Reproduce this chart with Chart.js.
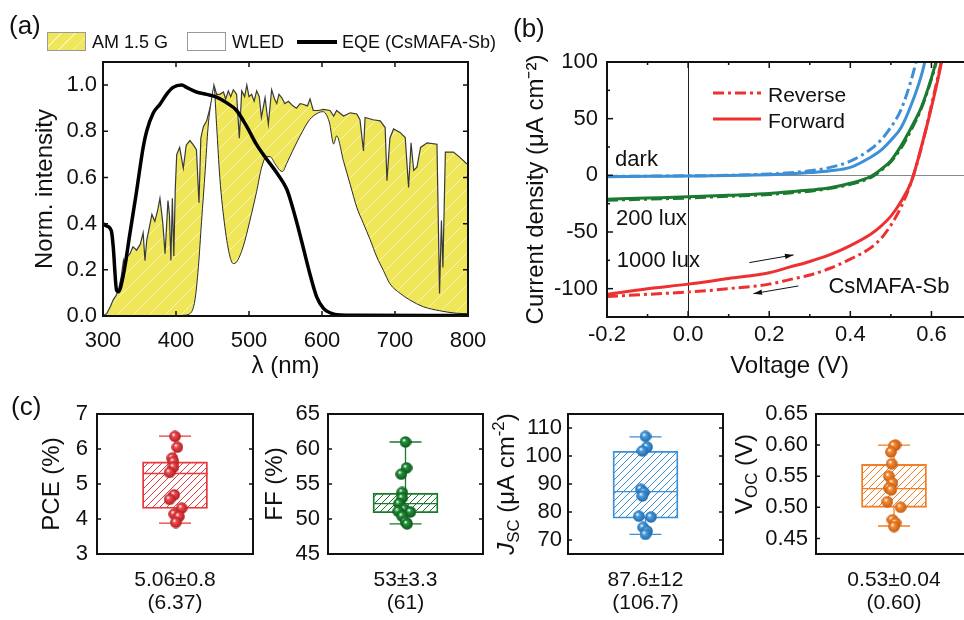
<!DOCTYPE html>
<html>
<head>
<meta charset="utf-8">
<script src="https://cdn.jsdelivr.net/npm/chart.js@4.4.1/dist/chart.umd.min.js"></script>
<style>
  html, body { margin: 0; padding: 0; background: #fff; overflow: hidden; }
  #wrap { position: relative; width: 964px; height: 620px; overflow: hidden;
          font-family: 'Liberation Sans', Arial, sans-serif; color: #111; }
  canvas { position: absolute; }
  .t { position: absolute; white-space: nowrap; line-height: 1; transform: translateY(-50%); }
  .sw { position: absolute; box-sizing: border-box; }
</style>
</head>
<body>
<div id="wrap">
  <canvas id="ca" width="500" height="381" style="left:0;top:0"></canvas>
  <canvas id="cb" width="492" height="390" style="left:480px;top:0"></canvas>
  <canvas id="c1" width="260" height="240" style="left:0;top:380px"></canvas>
  <canvas id="c2" width="230" height="240" style="left:260px;top:380px"></canvas>
  <canvas id="c3" width="240" height="240" style="left:490px;top:380px"></canvas>
  <canvas id="c4" width="255" height="240" style="left:725px;top:380px"></canvas>

  <div class="t" style="left:9px;top:25px;font-size:26px">(a)</div>
  <div class="t" style="left:513px;top:28px;font-size:26px">(b)</div>
  <div class="t" style="left:11px;top:406px;font-size:26px">(c)</div>

  <!-- legend (a) -->
  <div class="sw" style="left:47px;top:32px;width:39px;height:19px;border:1px solid #999;
       background:repeating-linear-gradient(135deg, rgba(255,255,255,0) 0 9px, rgba(255,255,255,.55) 9px 10px), rgb(240,230,90)"></div>
  <div class="t" style="left:92px;top:42px;font-size:18px">AM 1.5 G</div>
  <div class="sw" style="left:187px;top:32px;width:39px;height:19px;border:1px solid #999;background:#fff"></div>
  <div class="t" style="left:232px;top:42px;font-size:18px">WLED</div>
  <div class="sw" style="left:297px;top:40px;width:40px;height:4px;background:#000"></div>
  <div class="t" style="left:342px;top:42px;font-size:18px">EQE (CsMAFA-Sb)</div>

  <!-- legend (b) -->
  <svg style="position:absolute;left:710px;top:84px" width="54" height="44">
    <line x1="3" y1="9" x2="51" y2="9" stroke="#ee3030" stroke-width="3" stroke-dasharray="11 4 3 4"/>
    <line x1="3" y1="35" x2="51" y2="35" stroke="#ee3030" stroke-width="3"/>
  </svg>
  <div class="t" style="left:768px;top:94px;font-size:21px">Reverse</div>
  <div class="t" style="left:768px;top:120px;font-size:21px">Forward</div>
</div>

<script>
// ---------- (a) spectra: [wavelength nm, normalised intensity] ----------
const amSpectrum = [
  [300,0],[305,0.01],[310,0.04],[314,0.07],[318,0.09],[321,0.11],[325,0.17],[328,0.24],[330,0.21],
  [334,0.26],[337,0.27],[341,0.30],[346,0.285],[351,0.31],[355,0.36],[357.5,0.24],[360,0.33],[362,0.36],
  [367,0.44],[371,0.41],[375,0.46],[378,0.51],[382,0.40],[385,0.27],[389,0.50],[391,0.44],[393,0.24],
  [395,0.51],[397,0.26],[399,0.55],[401,0.70],[405,0.73],[410,0.64],[414,0.74],[419,0.76],[424,0.74],
  [428,0.72],[431.5,0.49],[434,0.77],[437.5,0.82],[442,0.845],[446.5,0.90],[450,0.945],[452,1.0],
  [455.7,0.96],[460,0.96],[465,0.97],[468,0.94],[471.7,0.975],[475,0.95],[478.5,0.98],[483,0.96],
  [486.8,0.77],[490,0.975],[494,0.95],[497,1.0],[500,0.95],[503.6,0.96],[507,0.93],[510.5,0.975],
  [514,0.95],[517,0.86],[522,0.945],[526.5,0.83],[531,0.98],[535,0.94],[538,0.92],[541,0.96],
  [545,0.945],[549,0.92],[554,0.93],[560,0.91],[565,0.90],[570,0.92],[574,0.917],[580,0.91],
  [583.6,0.94],[588,0.89],[595,0.89],[602,0.895],[611,0.89],[616,0.866],[620,0.89],[629.5,0.866],
  [638.6,0.88],[647.7,0.875],[652,0.85],[656.8,0.715],[659,0.86],[670,0.85],[679.7,0.845],
  [686.5,0.816],[689,0.586],[693,0.77],[698,0.81],[707,0.795],[714,0.773],[718.6,0.557],[722,0.75],
  [725.6,0.63],[730,0.644],[735,0.73],[744,0.75],[757.5,0.744],[761,0.098],[763.6,0.414],[765.6,0.21],
  [769,0.71],[780,0.71],[789,0.687],[798,0.66],[800,0.66]
];
const wledSpectrum = [
  [300,0],[390,0],[410,0.003],[419,0.01],[426,0.07],[430.6,0.21],[435,0.41],[440,0.63],[444,0.82],
  [449,0.945],[452,0.99],[455.7,0.82],[460,0.60],[467,0.385],[474,0.256],[478.5,0.227],[483,0.234],
  [492,0.30],[501,0.41],[510.5,0.54],[517,0.64],[524,0.69],[528.8,0.69],[535.6,0.66],[542.5,0.63],
  [546,0.626],[551.6,0.66],[556,0.69],[570,0.78],[583,0.85],[595,0.88],[601,0.885],[610,0.84],
  [616,0.745],[620,0.78],[629.5,0.67],[638.6,0.57],[647.7,0.47],[656.8,0.40],[666,0.33],[675,0.256],
  [684,0.198],[693,0.14],[707,0.098],[720,0.07],[739,0.04],[761,0.023],[784,0.012],[800,0.01]
];
const eqeCurve = [
  [300,0.40],[305,0.39],[309.6,0.38],[312,0.36],[314,0.30],[318.7,0.11],[321,0.105],[328,0.18],
  [337,0.36],[346,0.54],[355,0.73],[359.8,0.80],[369,0.88],[378,0.917],[387,0.96],[396,0.99],
  [408,1.0],[414.6,0.99],[428,0.97],[442,0.96],[455.7,0.948],[469,0.924],[483,0.89],[497,0.82],
  [510,0.744],[524,0.68],[538,0.62],[551.6,0.55],[556,0.51],[565,0.41],[574,0.30],[583.6,0.18],
  [592.7,0.083],[602,0.033],[611,0.014],[624.6,0.004],[647,0.003],[800,0.002]
];
const aTicksX = [300, 400, 500, 600, 700, 800];
const aTicksY = [0, 0.2, 0.4, 0.6, 0.8, 1.0];

// ---------- (b) J-V curves (V, µA cm-2) ----------
const jvVoltage  = [-0.2, -0.1, 0, 0.1, 0.2, 0.25, 0.3, 0.35, 0.4, 0.45, 0.475, 0.5, 0.525, 0.55, 0.575, 0.6, 0.625, 0.65];
const darkFwd    = [-1.2, -0.9, -0.6, -0.2, 0.6, 1.3, 2.4, 4, 7, 16, 22, 31, 42, 62, 88, 125, 165, 210];
const darkRev    = [-1.0, -0.7, -0.4, 0, 1.2, 2.3, 4, 7, 12.5, 23, 31, 42.5, 58, 84, 118, 150, 190, 230];
const lux200Fwd  = [-21, -20, -19, -17.5, -16, -14.5, -13, -11, -7, -1, 5, 13, 26, 42, 60, 86, 118, 150];
const lux200Rev  = [-22, -21, -20, -18.5, -17, -15.5, -14, -11.5, -8, -2, 4, 12, 24, 40, 59, 85, 117, 150];
const lux1000Fwd = [-105, -100, -96, -91, -86, -81, -76, -70, -62, -52, -45, -36, -23, -6, 25, 60, 100, 150];
const lux1000Rev = [-107, -105, -103, -100, -96, -92, -88, -82, -74, -64, -56, -44, -28, -6, 24, 62, 102, 150];
const bTicksX = [-0.2, 0, 0.2, 0.4, 0.6];
const bTicksY = [-100, -50, 0, 50, 100];
const bNotes = [
  { text: 'dark', v: -0.18, j: 14 },
  { text: '200 lux', v: -0.178, j: -38.5 },
  { text: '1000 lux', v: -0.176, j: -75.5 },
  { text: 'CsMAFA-Sb', v: 0.346, j: -98.4 }
];
const bArrows = [
  { from: [0.151, -77], to: [0.26, -70.2] },
  { from: [0.272, -97.6], to: [0.161, -104.4] }
];

// ---------- (c) device statistics ----------
const pceValues = [6.36, 6.05, 5.74, 5.64, 5.48, 5.33, 4.69, 4.56, 4.31, 4.14, 4.07, 3.9];
const pceX      = [1.0, 1.03, 0.965, 0.98, 0.98, 0.93, 0.99, 0.93, 1.085, 0.99, 1.05, 1.01];
const pceBox    = [3.88, 4.3, 5.3, 5.63, 6.37];          // min, q1, median, q3, max
const pceTicks  = [3, 4, 5, 6, 7];
const pceCaption = ['5.06±0.8', '(6.37)'];

const ffValues = [61.0, 57.3, 56.4, 53.8, 53.0, 52.2, 51.4, 51.1, 51.0, 50.4, 49.6, 49.3];
const ffX      = [1.0, 1.013, 0.945, 0.957, 0.957, 0.915, 0.987, 0.906, 1.064, 0.957, 1.0, 1.02];
const ffBox    = [49.3, 50.9, 52.2, 53.7, 61.0];
const ffTicks  = [45, 50, 55, 60, 65];
const ffCaption = ['53±3.3', '(61)'];

const jscValues = [107, 103.2, 101.8, 88.1, 87, 85.7, 78.5, 78.2, 74.5, 73.2, 72];
const jscX      = [1.0, 1.02, 0.96, 0.94, 0.98, 0.96, 0.915, 1.07, 0.97, 1.02, 1.0];
const jscBox    = [72, 77.8, 87.3, 101.7, 106.8];
const jscTicks  = [70, 80, 90, 100, 110];
const jscCaption = ['87.6±12', '(106.7)'];

const vocValues = [0.600, 0.599, 0.589, 0.570, 0.550, 0.539, 0.531, 0.528, 0.509, 0.500, 0.480, 0.475, 0.469];
const vocX      = [1.02, 1.0, 0.96, 0.97, 0.935, 0.98, 0.935, 0.965, 0.915, 1.085, 0.98, 1.02, 1.0];
const vocBox    = [0.47, 0.50, 0.53, 0.569, 0.60];
const vocTicks  = [0.45, 0.50, 0.55, 0.60, 0.65];
const vocCaption = ['0.53±0.04', '(0.60)'];

// ---------- helpers ----------
const FONT = "'Liberation Sans', Arial, sans-serif";
Chart.defaults.font.family = FONT;
Chart.defaults.color = '#111';

const toXY = pairs => pairs.map(p => ({ x: p[0], y: p[1] }));
const zip = (xs, ys) => xs.map((x, i) => ({ x: x, y: ys[i] }));
const NOGRID = { display: false, drawTicks: false };

// pin an axis to a fixed size so the plot areas line up with the figure
function fixSize(size) {
  return s => {
    if (s.isHorizontal()) s.height = size; else s.width = size;
    s.paddingLeft = s.paddingRight = s.paddingTop = s.paddingBottom = 0;
  };
}
const useTicks = arr => s => { s.ticks = arr.map(v => ({ value: v })); };

function hatch(ctx, color, size, width, bg) {
  const c = document.createElement('canvas');
  c.width = c.height = size;
  const g = c.getContext('2d');
  if (bg) { g.fillStyle = bg; g.fillRect(0, 0, size, size); }
  g.strokeStyle = color;
  g.lineWidth = width;
  g.beginPath();
  g.moveTo(-1, size + 1); g.lineTo(size + 1, -1);
  g.moveTo(-size / 2 - 1, size / 2 + 1); g.lineTo(size / 2 + 1, -size / 2 - 1);
  g.moveTo(size / 2 - 1, size * 1.5 + 1); g.lineTo(size * 1.5 + 1, size / 2 - 1);
  g.stroke();
  return ctx.createPattern(c, 'repeat');
}

function ball(color, dark) {
  const c = document.createElement('canvas');
  c.width = c.height = 12;
  const g = c.getContext('2d');
  const gr = g.createRadialGradient(4.3, 4.0, 0.3, 6, 6, 6.2);
  gr.addColorStop(0, '#ffffff');
  gr.addColorStop(0.28, color);
  gr.addColorStop(1, dark);
  g.fillStyle = gr;
  g.beginPath();
  g.arc(6, 6, 5.8, 0, Math.PI * 2);
  g.fill();
  return c;
}

// frame + inward ticks (Origin style), optional zero lines
const framePlugin = {
  id: 'frame',
  beforeDatasetsDraw(chart, args, o) {
    if (!o.zero) return;
    const { ctx, chartArea: a, scales: { x, y } } = chart;
    ctx.save();
    ctx.lineWidth = 1;
    ctx.strokeStyle = '#222';
    const px = Math.round(x.getPixelForValue(0)) + 0.5;
    ctx.beginPath(); ctx.moveTo(px, a.top); ctx.lineTo(px, a.bottom); ctx.stroke();
    ctx.strokeStyle = '#888';
    const py = Math.round(y.getPixelForValue(0)) + 0.5;
    ctx.beginPath(); ctx.moveTo(a.left, py); ctx.lineTo(a.right, py); ctx.stroke();
    ctx.restore();
  },
  afterDatasetsDraw(chart, args, o) {
    const { ctx, chartArea: a, scales: { x, y } } = chart;
    const len = o.len || 6, mlen = o.minorLen || 3;
    const mids = t => t.slice(1).map((tk, i) => (t[i].value + tk.value) / 2);
    ctx.save();
    ctx.strokeStyle = '#111';
    ctx.lineWidth = 1.5;
    const xt = (vals, l) => vals.forEach(v => {
      const p = x.getPixelForValue(v);
      if (p < a.left + 1 || p > a.right - 1) return;
      ctx.beginPath();
      ctx.moveTo(p, a.bottom); ctx.lineTo(p, a.bottom - l);
      if (o.top) { ctx.moveTo(p, a.top); ctx.lineTo(p, a.top + l); }
      ctx.stroke();
    });
    const yt = (vals, l) => vals.forEach(v => {
      const p = y.getPixelForValue(v);
      if (p < a.top + 1 || p > a.bottom - 1) return;
      ctx.beginPath();
      ctx.moveTo(a.left, p); ctx.lineTo(a.left + l, p);
      if (o.right) { ctx.moveTo(a.right, p); ctx.lineTo(a.right - l, p); }
      ctx.stroke();
    });
    if (o.xTicks !== false) {
      xt(x.ticks.map(t => t.value), len);
      if (o.minor) xt(mids(x.ticks), mlen);
    }
    yt(y.ticks.map(t => t.value), len);
    if (o.minor) yt(mids(y.ticks), mlen);
    ctx.lineWidth = 2;
    ctx.strokeRect(a.left, a.top, a.right - a.left, a.bottom - a.top);
    ctx.restore();
  }
};

// text labels and arrows placed in data coordinates
const notesPlugin = {
  id: 'notes',
  afterDatasetsDraw(chart, args, o) {
    if (!o.labels) return;
    const { ctx, scales: { x, y } } = chart;
    ctx.save();
    ctx.fillStyle = '#111';
    ctx.font = '22px ' + FONT;
    ctx.textAlign = 'left';
    ctx.textBaseline = 'middle';
    o.labels.forEach(n => ctx.fillText(n.text, x.getPixelForValue(n.v), y.getPixelForValue(n.j)));
    ctx.strokeStyle = '#111';
    ctx.lineWidth = 1;
    (o.arrows || []).forEach(ar => {
      const x0 = x.getPixelForValue(ar.from[0]), y0 = y.getPixelForValue(ar.from[1]);
      const x1 = x.getPixelForValue(ar.to[0]), y1 = y.getPixelForValue(ar.to[1]);
      const ang = Math.atan2(y1 - y0, x1 - x0);
      ctx.beginPath(); ctx.moveTo(x0, y0); ctx.lineTo(x1, y1); ctx.stroke();
      ctx.beginPath();
      ctx.moveTo(x1, y1);
      ctx.lineTo(x1 - 9 * Math.cos(ang - 0.3), y1 - 9 * Math.sin(ang - 0.3));
      ctx.lineTo(x1 - 9 * Math.cos(ang + 0.3), y1 - 9 * Math.sin(ang + 0.3));
      ctx.closePath(); ctx.fill();
    });
    ctx.restore();
  }
};

// whiskers, caps and median line of a box plot
const whiskerPlugin = {
  id: 'whisker',
  beforeDatasetsDraw(chart, args, o) {
    if (!o.box) return;
    const { ctx, scales: { y } } = chart;
    const bar = chart.getDatasetMeta(1).data[0];
    const [mn, q1, md, q3, mx] = o.box.map(v => y.getPixelForValue(v));
    const cx = bar.x, hw = bar.width / 2, cap = o.cap;
    ctx.save();
    ctx.strokeStyle = o.color;
    ctx.lineWidth = 1.3;
    ctx.beginPath();
    ctx.moveTo(cx, mn); ctx.lineTo(cx, q1);
    ctx.moveTo(cx, q3); ctx.lineTo(cx, mx);
    ctx.moveTo(cx - cap, mn); ctx.lineTo(cx + cap, mn);
    ctx.moveTo(cx - cap, mx); ctx.lineTo(cx + cap, mx);
    ctx.moveTo(cx - hw, md); ctx.lineTo(cx + hw, md);
    ctx.stroke();
    ctx.restore();
  }
};

// rotated axis title with italic / subscript / superscript parts
const richTitlePlugin = {
  id: 'richTitle',
  afterDraw(chart, args, o) {
    if (!o.parts) return;
    const { ctx, chartArea: a } = chart;
    const size = o.size;
    const segs = o.parts.map(p => {
      const fs = (p.sub || p.sup) ? size * 0.7 : size;
      const font = (p.italic ? 'italic ' : '') + fs + 'px ' + FONT;
      ctx.font = font;
      return Object.assign({}, p, { font: font, w: ctx.measureText(p.t).width });
    });
    const total = segs.reduce((s, p) => s + p.w, 0);
    ctx.save();
    ctx.translate(o.x, o.y != null ? o.y : (a.top + a.bottom) / 2);
    ctx.rotate(-Math.PI / 2);
    ctx.fillStyle = '#111';
    ctx.textBaseline = 'middle';
    ctx.textAlign = 'left';
    let x = -total / 2;
    segs.forEach(p => {
      ctx.font = p.font;
      const dy = p.sub ? size * 0.3 : p.sup ? -size * 0.33 : 0;
      ctx.fillText(p.t, x, dy);
      x += p.w;
    });
    ctx.restore();
  }
};

const base = {
  responsive: false,
  devicePixelRatio: 1,
  animation: false,
  events: []
};

// ---------- (a) ----------
const caCtx = document.getElementById('ca').getContext('2d');
new Chart(caCtx, {
  type: 'line',
  data: {
    datasets: [
      { label: 'EQE (CsMAFA-Sb)', data: toXY(eqeCurve), borderColor: '#000', borderWidth: 3.5,
        pointRadius: 0, cubicInterpolationMode: 'monotone', fill: false },
      { label: 'WLED', data: toXY(wledSpectrum), borderColor: '#2a2a2a', borderWidth: 1,
        backgroundColor: '#fff', fill: 'origin', pointRadius: 0, cubicInterpolationMode: 'monotone' },
      { label: 'AM 1.5 G', data: toXY(amSpectrum), borderColor: '#3a3a3a', borderWidth: 1.2,
        backgroundColor: hatch(caCtx, 'rgba(255,255,255,0.55)', 16, 1, 'rgb(240,230,90)'),
        fill: 'origin', pointRadius: 0, tension: 0 }
    ]
  },
  options: Object.assign({}, base, {
    layout: { padding: { left: 0, top: 62, right: 32, bottom: 0 } },
    plugins: { legend: { display: false }, tooltip: { enabled: false }, frame: { len: 5, top: true, right: true } },
    scales: {
      x: {
        type: 'linear', min: 300, max: 800,
        grid: NOGRID, border: { display: false },
        afterFit: fixSize(65), afterBuildTicks: useTicks(aTicksX),
        ticks: { padding: 12, font: { size: 22 }, callback: v => v },
        title: { display: true, text: 'λ (nm)', font: { size: 24 }, padding: { top: 0, bottom: 0 } }
      },
      y: {
        min: 0, max: 1.1,
        grid: NOGRID, border: { display: false },
        afterFit: fixSize(103), afterBuildTicks: useTicks(aTicksY),
        ticks: { padding: 6, font: { size: 22 }, callback: v => v.toFixed(1) },
        title: { display: true, text: 'Norm. intensity', font: { size: 24 }, padding: { top: 31, bottom: 0 } }
      }
    }
  }),
  plugins: [framePlugin]
});

// ---------- (b) ----------
const BLUE = '#3d8fd6', GREEN = '#1b7a30', RED = '#ee3030';
const DASHDOT = [11, 4, 3, 4];
function jv(label, ys, color, dashed) {
  return { label: label, data: zip(jvVoltage, ys), borderColor: color, borderWidth: 3,
           borderDash: dashed ? DASHDOT : [], pointRadius: 0, cubicInterpolationMode: 'monotone', fill: false };
}
new Chart(document.getElementById('cb'), {
  type: 'line',
  data: {
    datasets: [
      jv('dark reverse', darkRev, BLUE, true),
      jv('dark forward', darkFwd, BLUE, false),
      jv('200 lux reverse', lux200Rev, GREEN, true),
      jv('200 lux forward', lux200Fwd, GREEN, false),
      jv('Reverse', lux1000Rev, RED, true),
      jv('Forward', lux1000Fwd, RED, false)
    ]
  },
  options: Object.assign({}, base, {
    layout: { padding: { left: 0, top: 62, right: 0, bottom: 0 } },
    plugins: {
      legend: { display: false }, tooltip: { enabled: false },
      frame: { len: 6, minorLen: 3, minor: true, top: true, zero: true },
      notes: { labels: bNotes, arrows: bArrows }
    },
    scales: {
      x: {
        type: 'linear', min: -0.2, max: 0.7,
        grid: NOGRID, border: { display: false },
        afterFit: fixSize(73), afterBuildTicks: useTicks(bTicksX),
        ticks: { padding: 5, font: { size: 22 }, callback: v => v.toFixed(1) },
        title: { display: true, text: 'Voltage (V)', font: { size: 24 }, padding: { top: 0, bottom: 9 } }
      },
      y: {
        min: -125, max: 100,
        grid: NOGRID, border: { display: false },
        afterFit: fixSize(127), afterBuildTicks: useTicks(bTicksY),
        ticks: { padding: 9, font: { size: 22 }, callback: v => v },
        title: { display: true, text: 'Current density (μA cm⁻²)', font: { size: 24 }, padding: { top: 42, bottom: 0 } }
      }
    }
  }),
  plugins: [framePlugin, notesPlugin]
});

// ---------- (c) box plots ----------
function boxChart(id, o) {
  const ctx = document.getElementById(id).getContext('2d');
  return new Chart(ctx, {
    type: 'bar',
    data: {
      datasets: [
        { type: 'scatter', data: zip(o.xs, o.values), pointStyle: ball(o.light, o.dark), pointRadius: 6, order: 0 },
        { type: 'bar', data: [{ x: 1, y: [o.box[1], o.box[3]] }], backgroundColor: hatch(ctx, o.color, 7, 1),
          borderColor: o.color, borderWidth: 1.2, borderSkipped: false, barThickness: 65, order: 1 }
      ]
    },
    options: Object.assign({}, base, {
      layout: { padding: { left: 0, top: 34, right: o.padRight, bottom: 0 } },
      plugins: {
        legend: { display: false }, tooltip: { enabled: false },
        frame: { xTicks: false, len: 4, right: true },
        whisker: { box: o.box, color: o.color, cap: 16 },
        richTitle: o.rich || {}
      },
      scales: {
        x: {
          type: 'linear', min: 0, max: 2, offset: false,
          grid: { display: false, drawTicks: false, offset: false }, border: { display: false },
          ticks: { display: false }, afterFit: fixSize(66),
          title: { display: true, text: o.caption, font: { size: 21, lineHeight: 1.1 }, padding: { top: 0, bottom: 5 } }
        },
        y: {
          min: o.min, max: o.max,
          grid: NOGRID, border: { display: false },
          afterFit: fixSize(o.axisWidth), afterBuildTicks: useTicks(o.ticks),
          ticks: { padding: o.tickPad, font: { size: 22 }, callback: o.fmt || (v => v) },
          title: { display: !o.rich, text: o.title || '', font: { size: 24 }, padding: { top: o.titlePad || 0, bottom: 0 } }
        }
      }
    }),
    plugins: [framePlugin, whiskerPlugin, richTitlePlugin]
  });
}

boxChart('c1', { values: pceValues, xs: pceX, box: pceBox, ticks: pceTicks, caption: pceCaption,
  min: 3, max: 7, color: '#e8383d', light: '#ee4a4e', dark: '#a8181d',
  axisWidth: 97, padRight: 7, tickPad: 9, title: 'PCE (%)', titlePad: 38 });

boxChart('c2', { values: ffValues, xs: ffX, box: ffBox, ticks: ffTicks, caption: ffCaption,
  min: 45, max: 65, color: '#1a7a2e', light: '#23913a', dark: '#0b5018',
  axisWidth: 68, padRight: 7, tickPad: 8, title: 'FF (%)', titlePad: 1 });

boxChart('c3', { values: jscValues, xs: jscX, box: jscBox, ticks: jscTicks, caption: jscCaption,
  min: 65, max: 115, color: '#3b8fd6', light: '#4a9ee0', dark: '#1c64a3',
  axisWidth: 78, padRight: 7, tickPad: 6,
  rich: { x: 17, size: 24, parts: [{ t: 'J', italic: true }, { t: 'SC', sub: true }, { t: ' (μA cm' }, { t: '-2', sup: true }, { t: ')' }] } });

boxChart('c4', { values: vocValues, xs: vocX, box: vocBox, ticks: vocTicks, caption: vocCaption,
  min: 0.425, max: 0.65, color: '#f37e25', light: '#f68b34', dark: '#c0560c',
  axisWidth: 91, padRight: 8, tickPad: 8, fmt: v => v.toFixed(2),
  rich: { x: 20, y: 94, size: 24, parts: [{ t: 'V' }, { t: 'OC', sub: true }, { t: ' (V)' }] } });
</script>
</body>
</html>
